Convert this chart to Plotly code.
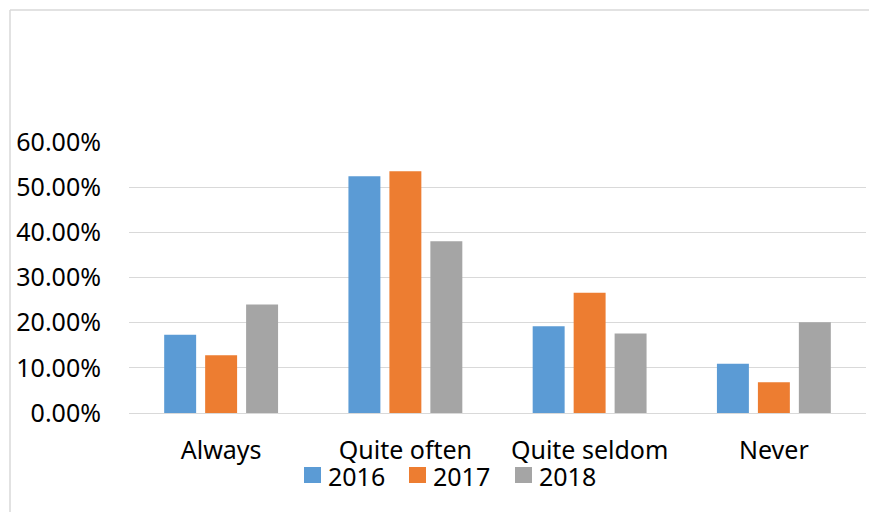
import plotly.graph_objects as go

categories = ["Always", "Quite often", "Quite seldom", "Never"]
years = ["2016", "2017", "2018"]
v2016 = [0.173, 0.524, 0.192, 0.109]
v2017 = [0.128, 0.535, 0.266, 0.068]
v2018 = [0.240, 0.380, 0.176, 0.201]
colors = ["#5B9BD5", "#ED7D31", "#A5A5A5"]
y_ticks = [0, 0.1, 0.2, 0.3, 0.4, 0.5, 0.6]

FONT = "Noto Sans"
W, H = 869, 512
L, R, T, B = 129, 3, 142, 99
pw = W - L - R
ph = H - T - B

def px(x):
    return (x - L) / pw

def py(y):
    return (H - B - y) / ph

fig = go.Figure()
for name, vals, col in zip(years, [v2016, v2017, v2018], colors):
    fig.add_trace(go.Bar(name=name, x=categories, y=vals, marker_color=col,
                         marker_line_width=0, showlegend=False))

shapes = []
annotations = []
# chart border: top and left edges
shapes.append(dict(type="line", xref="paper", yref="paper", x0=px(10), x1=px(W),
                   y0=py(10), y1=py(10), line=dict(color="#d9d9d9", width=1.5)))
shapes.append(dict(type="line", xref="paper", yref="paper", x0=px(10), x1=px(10),
                   y0=py(10), y1=py(H), line=dict(color="#d9d9d9", width=1.5)))

# custom legend
leg_x = [304, 409, 515]
for i, (name, col) in enumerate(zip(years, colors)):
    x0 = leg_x[i]
    shapes.append(dict(type="rect", xref="paper", yref="paper",
                       x0=px(x0), x1=px(x0 + 17), y0=py(483), y1=py(467),
                       fillcolor=col, line=dict(width=0)))
    annotations.append(dict(xref="paper", yref="paper", x=px(x0 + 22), y=py(476),
                            text=name, showarrow=False, xanchor="left", yanchor="middle",
                            font=dict(family=FONT, size=25, color="#000000")))

fig.update_layout(
    width=W, height=H,
    margin=dict(l=L, r=R, t=T, b=B),
    paper_bgcolor="white", plot_bgcolor="white",
    barmode="group", bargap=0.333, bargroupgap=0.22,
    font=dict(family=FONT, size=25, color="#000000"),
    shapes=shapes, annotations=annotations,
    xaxis=dict(showgrid=False, showline=False, ticks="", ticklabelstandoff=20,
               tickfont=dict(family=FONT, size=25, color="#000000")),
    yaxis=dict(range=[0, 0.6], tickvals=y_ticks, tickformat=".2%",
               showgrid=True, gridcolor="#d9d9d9", gridwidth=1,
               zeroline=True, zerolinecolor="#d9d9d9", zerolinewidth=1,
               showline=False, ticks="", ticklabelstandoff=27,
               tickfont=dict(family=FONT, size=25, color="#000000")),
)

fig.write_html(
    "out.html",
    config={"displayModeBar": False},
    post_script="document.body.style.margin='0';document.body.style.overflow='hidden';"
                "document.documentElement.style.overflow='hidden';",
)
